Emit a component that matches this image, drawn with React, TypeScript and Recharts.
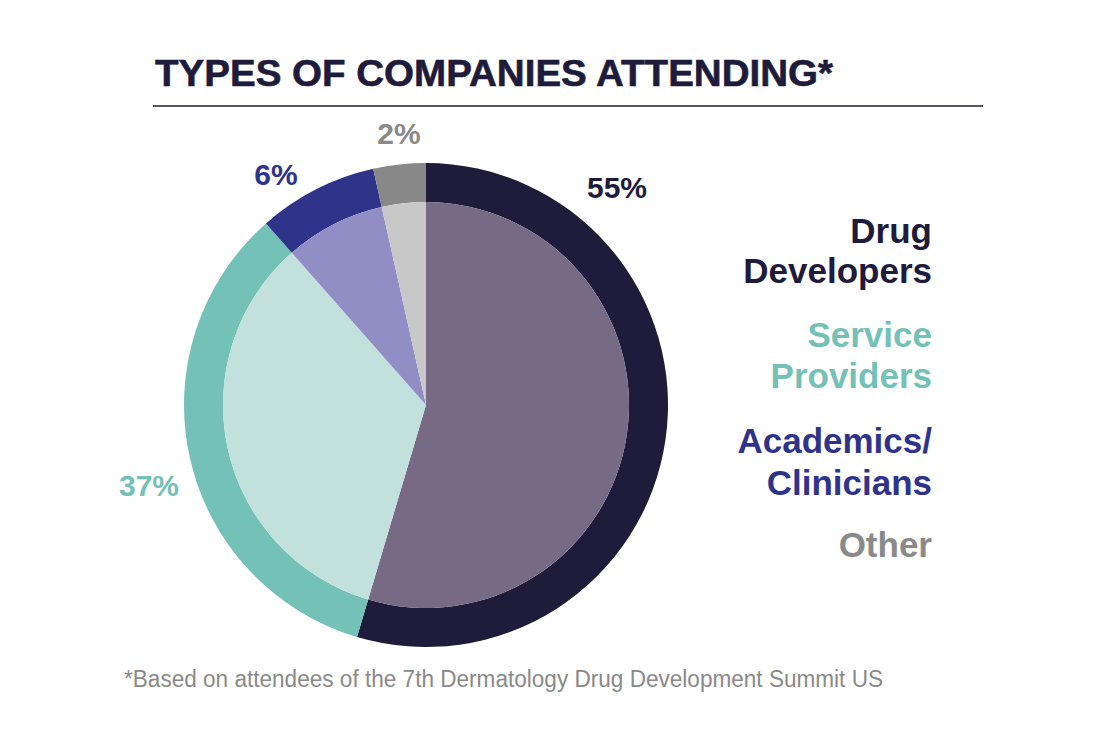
import React from "react";
import { PieChart, Pie, Cell } from "recharts";

const categories = ["Drug Developers", "Service Providers", "Academics/Clinicians", "Other"];
const shares = [54.6, 33.9, 8.0, 3.5];
const percentLabels = ["55%", "37%", "6%", "2%"];
const legendLines = [["Drug", "Developers"], ["Service", "Providers"], ["Academics/", "Clinicians"], ["Other"]];

const outerColors = ["#1f1b3a", "#74c1b8", "#30338a", "#888888"];
const innerColors = ["#766a84", "#c2e1dc", "#918dc5", "#c8c8c8"];
const textColors = ["#1f1b3a", "#74c1b8", "#30338a", "#8a8a8a"];

const data = categories.map((name, i) => ({ name, value: shares[i] }));

const FONT = '"Liberation Sans", Arial, Helvetica, sans-serif';

export default function App() {
  const cx = 426;
  const cy = 405;
  const labelPos = [
    { x: 617, y: 198 },
    { x: 149, y: 496 },
    { x: 276, y: 185 },
    { x: 399, y: 144 },
  ];
  const legendBaselines = [
    [243, 283],
    [347, 388],
    [453, 495],
    [557],
  ];
  return (
    <div style={{ position: "absolute", left: 0, top: 0, width: 1100, height: 741, background: "#ffffff" }}>
      <div style={{ position: "absolute", left: 0, top: 0 }}>
        <PieChart width={1100} height={741} margin={{ top: 0, right: 0, bottom: 0, left: 0 }}>
          <Pie
            data={data}
            dataKey="value"
            nameKey="name"
            cx={cx}
            cy={cy}
            innerRadius={203}
            outerRadius={242}
            startAngle={90}
            endAngle={-270}
            stroke="none"
            isAnimationActive={false}
          >
            {data.map((d, i) => (
              <Cell key={d.name} fill={outerColors[i]} />
            ))}
          </Pie>
          <Pie
            data={data}
            dataKey="value"
            nameKey="name"
            cx={cx}
            cy={cy}
            innerRadius={0}
            outerRadius={203}
            startAngle={90}
            endAngle={-270}
            stroke="none"
            isAnimationActive={false}
          >
            {data.map((d, i) => (
              <Cell key={d.name} fill={innerColors[i]} />
            ))}
          </Pie>
        </PieChart>
      </div>
      <svg
        width={1100}
        height={741}
        style={{ position: "absolute", left: 0, top: 0, pointerEvents: "none" }}
      >
        <text
          x={155}
          y={86}
          fontFamily={FONT}
          fontWeight={700}
          fontSize={37}
          fill="#1f1b3a"
          stroke="#1f1b3a"
          strokeWidth={0.6}
          textLength={678}
          lengthAdjust="spacingAndGlyphs"
        >
          TYPES OF COMPANIES ATTENDING*
        </text>
        <line x1={153} x2={983} y1={106} y2={106} stroke="#1f1b3a" strokeWidth={1.6} />
        {percentLabels.map((t, i) => (
          <text
            key={t}
            x={labelPos[i].x}
            y={labelPos[i].y}
            textAnchor="middle"
            fontFamily={FONT}
            fontWeight={700}
            fontSize={30}
            fill={textColors[i]}
          >
            {t}
          </text>
        ))}
        {legendLines.map((lines, i) =>
          lines.map((ln, j) => (
            <text
              key={ln}
              x={932}
              y={legendBaselines[i][j]}
              textAnchor="end"
              fontFamily={FONT}
              fontWeight={700}
              fontSize={35}
              fill={textColors[i]}
            >
              {ln}
            </text>
          ))
        )}
        <text
          x={124}
          y={687}
          fontFamily={FONT}
          fontSize={23}
          fill="#8a8a8a"
          textLength={759}
          lengthAdjust="spacingAndGlyphs"
        >
          *Based on attendees of the 7th Dermatology Drug Development Summit US
        </text>
      </svg>
    </div>
  );
}
